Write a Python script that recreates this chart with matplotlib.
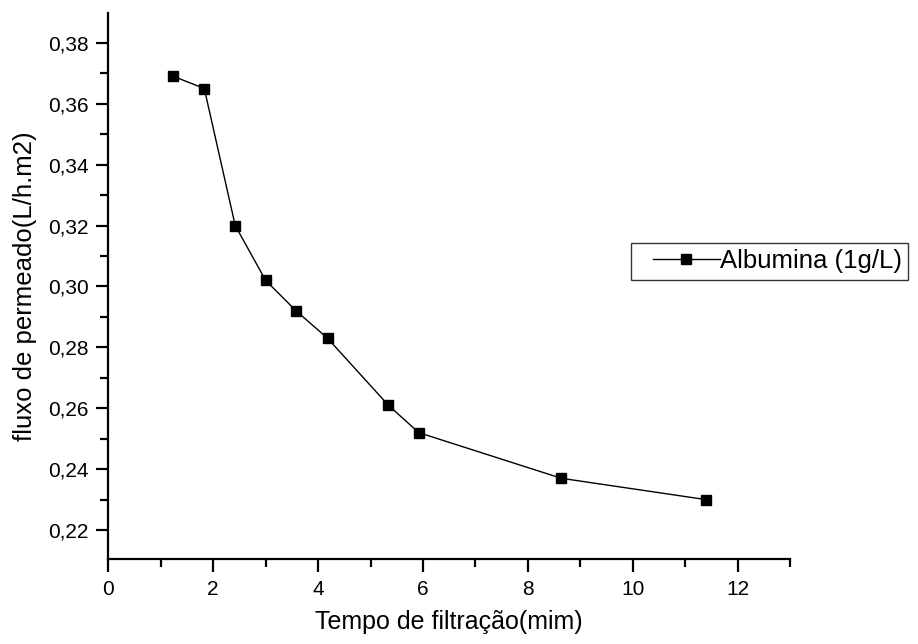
import numpy as np
import matplotlib
matplotlib.use("Agg")
import matplotlib.pyplot as plt
from matplotlib.ticker import MultipleLocator, FuncFormatter
from matplotlib.legend_handler import HandlerLine2D

# values
tempo = [1.24, 1.83, 2.42, 3.00, 3.58, 4.18, 5.34, 5.92, 8.64, 11.40]
fluxo = [0.369, 0.365, 0.320, 0.302, 0.292, 0.283, 0.261, 0.252, 0.237, 0.230]
serie_label = "Albumina (1g/L)"
x_label = "Tempo de filtração(mim)"
y_label = "fluxo de permeado(L/h.m2)"

plt.rcParams['font.family'] = ['Liberation Sans', 'DejaVu Sans']

fig = plt.figure(figsize=(9.18, 6.44), dpi=100)
ax = fig.add_axes([0.118, 0.1315, 0.8606 - 0.118, 0.9803 - 0.1315])

line, = ax.plot(tempo, fluxo, color='black', lw=1.0, marker='s', markersize=7.5,
                markerfacecolor='black', markeredgecolor='black', label=serie_label)

ax.set_xlim(0, 13)
ax.set_ylim(0.2104, 0.3899)

ax.xaxis.set_major_locator(MultipleLocator(2))
ax.xaxis.set_minor_locator(MultipleLocator(1))
ax.yaxis.set_major_locator(MultipleLocator(0.02))
ax.yaxis.set_minor_locator(MultipleLocator(0.01))
ax.yaxis.set_major_formatter(FuncFormatter(lambda v, p: f"{v:.2f}".replace('.', ',')))

for side in ['top', 'right']:
    ax.spines[side].set_visible(False)
for side in ['left', 'bottom']:
    ax.spines[side].set_linewidth(1.6)

ax.tick_params(which='major', direction='out', length=9, width=1.6, labelsize=15)
ax.tick_params(axis='x', which='major', pad=6)
ax.tick_params(axis='y', which='major', pad=5)
ax.tick_params(which='minor', direction='out', length=5.5, width=1.6)

ax.set_xlabel(x_label, fontsize=18, labelpad=8)
ax.set_ylabel(y_label, fontsize=18.5, labelpad=8)

leg = ax.legend(loc='upper left', bbox_to_anchor=(631 / 918, 1 - 243 / 644),
                bbox_transform=fig.transFigure, fontsize=18.5, frameon=True,
                fancybox=False, handlelength=3.2, handletextpad=0.0,
                borderpad=0.25, borderaxespad=0,
                handler_map={line: HandlerLine2D(xpad=0.6)})
leg.get_frame().set_edgecolor('black')
leg.get_frame().set_linewidth(1.0)

fig.savefig("out.png", dpi=100)
